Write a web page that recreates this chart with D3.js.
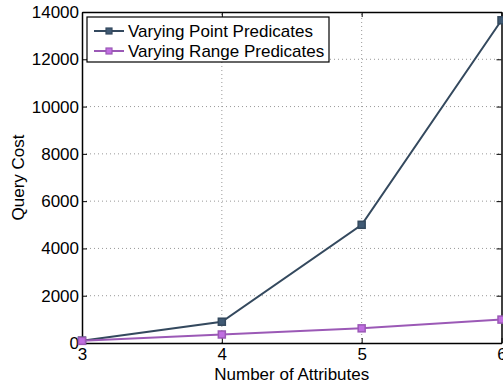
<!DOCTYPE html>
<html>
<head>
<meta charset="utf-8">
<script src="https://cdn.jsdelivr.net/npm/d3@7"></script>
<style>
  html, body { margin: 0; padding: 0; background: #fff; }
  svg { display: block; font-family: "Liberation Sans", Arial, sans-serif; }
</style>
</head>
<body>
<svg id="chart" width="503" height="386"></svg>
<script>
// Query cost as the number of attributes grows
const attributes = [3, 4, 5, 6];
const pointCost = [100, 900, 5000, 13650];
const rangeCost = [90, 360, 620, 990];
const seriesNames = ["Varying Point Predicates", "Varying Range Predicates"];
const seriesColors = ["#34495e", "#9b59b6"];
const yTicks = [0, 2000, 4000, 6000, 8000, 10000, 12000, 14000];

const margin = { left: 82, right: 1.5, top: 12, bottom: 43 };
const W = 503, H = 386;
const svg = d3.select("#chart");

const x = d3.scaleLinear().domain([3, 6]).range([margin.left, W - margin.right]);
const y = d3.scaleLinear().domain([0, 14000]).range([H - margin.bottom, margin.top]);

// dotted grid
const grid = svg.append("g");
grid.selectAll(".gy").data(yTicks.slice(1, -1)).join("line")
  .attr("x1", x(3)).attr("x2", x(6))
  .attr("y1", d => y(d)).attr("y2", d => y(d))
  .attr("stroke", "#999").attr("stroke-width", 1).attr("stroke-dasharray", "1,3");
grid.selectAll(".gx").data(attributes.slice(1, -1)).join("line")
  .attr("x1", d => x(d)).attr("x2", d => x(d))
  .attr("y1", y(0)).attr("y2", y(14000))
  .attr("stroke", "#999").attr("stroke-width", 1).attr("stroke-dasharray", "1,3");

// axes with inward ticks
const xAxis = d3.axisBottom(x).tickValues(attributes).tickFormat(d3.format("d"))
  .tickSizeInner(-5).tickSizeOuter(0).tickPadding(5);
const yAxis = d3.axisLeft(y).tickValues(yTicks).tickFormat(d3.format("d"))
  .tickSizeInner(-5).tickSizeOuter(0).tickPadding(3);

const gx = svg.append("g").attr("transform", `translate(0,${y(0)})`).call(xAxis);
const gy = svg.append("g").attr("transform", `translate(${x(3)},0)`).call(yAxis);
const gxTop = svg.append("g").attr("transform", `translate(0,${y(14000)})`)
  .call(d3.axisTop(x).tickValues(attributes).tickFormat("").tickSizeInner(-5).tickSizeOuter(0));
const gyRight = svg.append("g").attr("transform", `translate(${x(6)},0)`)
  .call(d3.axisRight(y).tickValues(yTicks).tickFormat("").tickSizeInner(-5).tickSizeOuter(0));

[gx, gy, gxTop, gyRight].forEach(g => {
  g.attr("font-size", 17).attr("font-family", "Liberation Sans, Arial, sans-serif");
  g.select(".domain").attr("stroke", "#000").attr("stroke-width", 1.5);
  g.selectAll(".tick line").attr("stroke", "#000");
  g.selectAll("text").attr("fill", "#000");
});
gx.selectAll("text").attr("dy", "0.71em");

// axis titles
svg.append("text")
  .attr("x", (x(3) + x(6)) / 2).attr("y", 380)
  .attr("text-anchor", "middle").attr("font-size", 17).text("Number of Attributes");
svg.append("text")
  .attr("transform", `translate(24,${(y(0) + y(14000)) / 2}) rotate(-90)`)
  .attr("text-anchor", "middle").attr("font-size", 17).text("Query Cost");

// series
const line = d3.line().x(d => x(d[0])).y(d => y(d[1]));
[pointCost, rangeCost].forEach((vals, i) => {
  const pts = attributes.map((a, j) => [a, vals[j]]);
  svg.append("path").datum(pts).attr("d", line)
    .attr("fill", "none").attr("stroke", seriesColors[i]).attr("stroke-width", 2);
  svg.selectAll(null).data(pts).join("rect")
    .attr("x", d => x(d[0]) - 3.5).attr("y", d => y(d[1]) - 3.5)
    .attr("width", 7).attr("height", 7)
    .attr("fill", d3.color(seriesColors[i]).brighter(0.6)).attr("stroke", seriesColors[i]).attr("stroke-width", 1.5);
});

// legend
const lg = svg.append("g");
lg.append("rect").attr("x", 87).attr("y", 17).attr("width", 242).attr("height", 45)
  .attr("fill", "#fff").attr("stroke", "#000").attr("stroke-width", 1.2);
seriesNames.forEach((name, i) => {
  const ly = 31 + i * 20;
  lg.append("line").attr("x1", 94).attr("x2", 124).attr("y1", ly).attr("y2", ly)
    .attr("stroke", seriesColors[i]).attr("stroke-width", 2);
  lg.append("rect").attr("x", 106).attr("y", ly - 3).attr("width", 6).attr("height", 6)
    .attr("fill", d3.color(seriesColors[i]).brighter(0.6)).attr("stroke", seriesColors[i]).attr("stroke-width", 1.2);
  lg.append("text").attr("x", 128).attr("y", ly).attr("dy", "0.35em")
    .attr("font-size", 17).text(name);
});
</script>
</body>
</html>
